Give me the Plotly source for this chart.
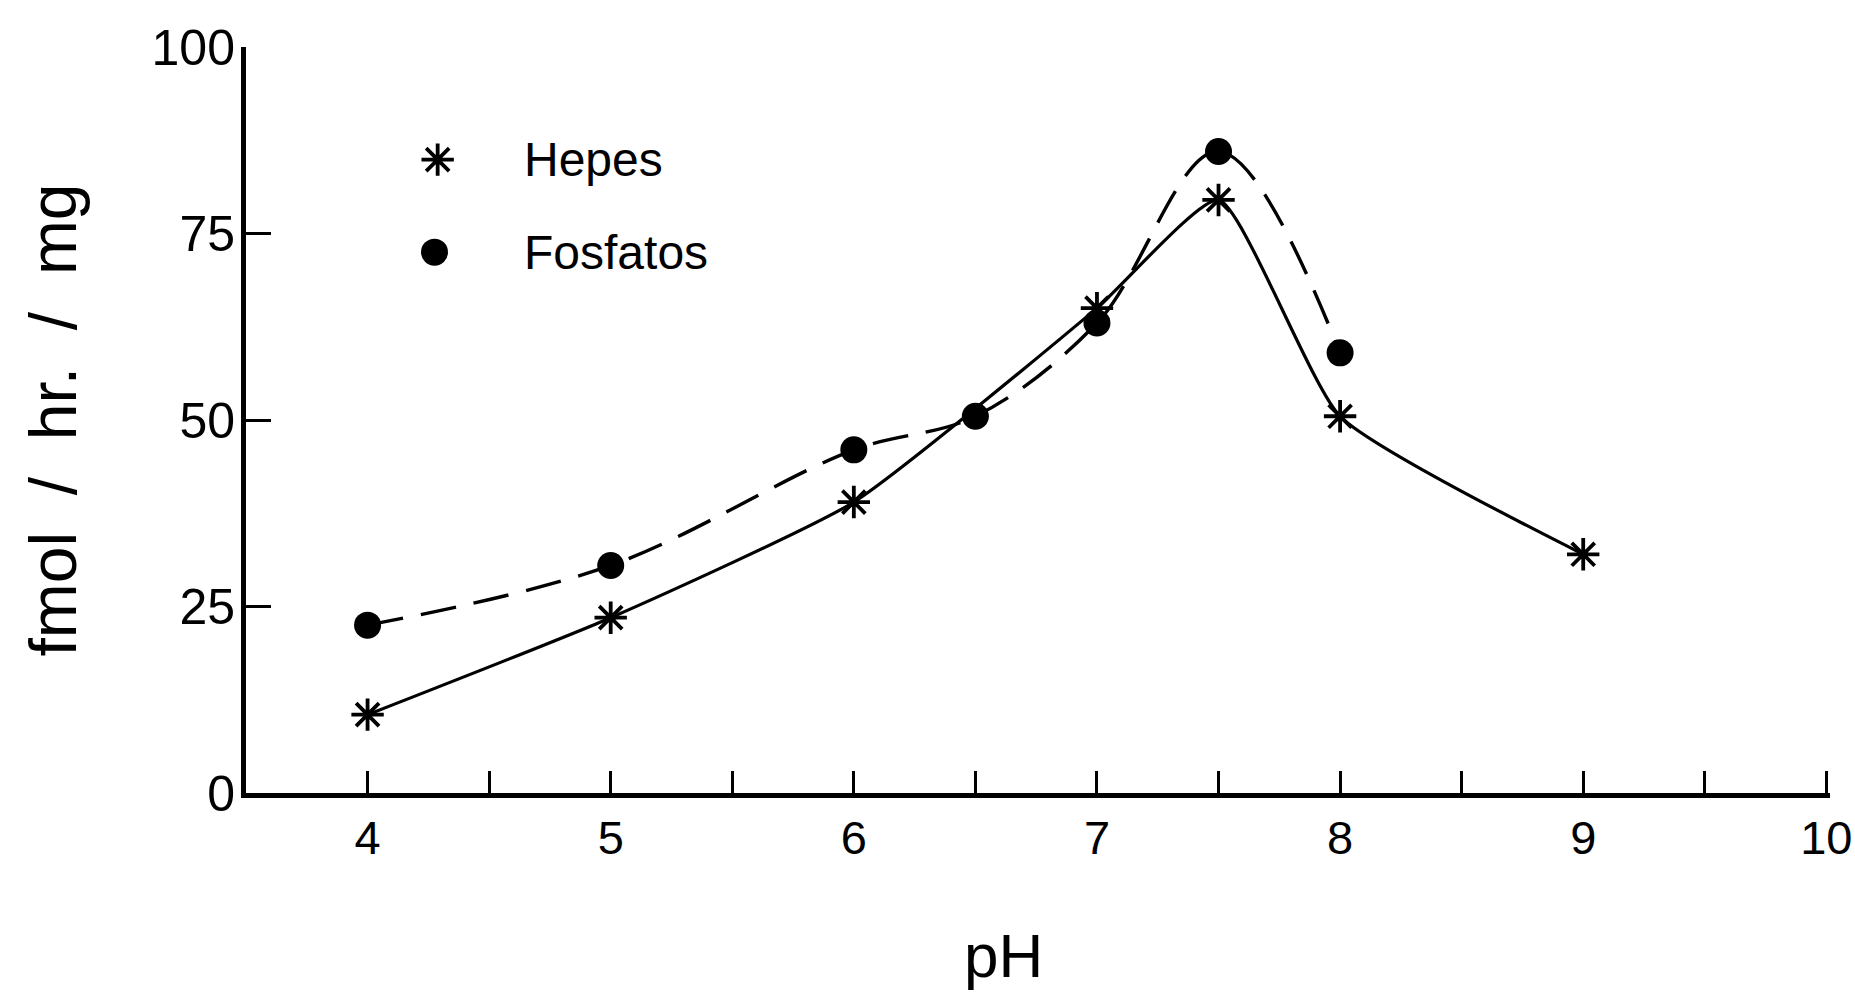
import plotly.graph_objects as go

# ---- data ----
ph_hepes = [4, 5, 6, 7, 7.5, 8, 9]
act_hepes = [10.5, 23.5, 39, 65, 79.5, 50.5, 32]

ph_fosf = [4, 5, 6, 6.5, 7, 7.5, 8]
act_fosf = [22.5, 30.5, 46, 50.5, 63, 86, 59]

x_major = [4, 5, 6, 7, 8, 9, 10]
x_minor = [4.5, 5.5, 6.5, 7.5, 8.5, 9.5]
y_ticks = [0, 25, 50, 75, 100]

legend_names = ["Hepes", "Fosfatos"]

FONT = "Liberation Sans"
INK = "black"

fig = go.Figure()

fig.add_trace(go.Scatter(
    x=ph_hepes, y=act_hepes, mode="lines+markers", name=legend_names[0],
    line=dict(color=INK, width=3.2, shape="spline", smoothing=0.5),
    marker=dict(symbol="asterisk-open", size=27, color=INK,
                line=dict(color=INK, width=3.8)),
    cliponaxis=False, showlegend=False))

fig.add_trace(go.Scatter(
    x=ph_fosf, y=act_fosf, mode="lines+markers", name=legend_names[1],
    line=dict(color=INK, width=3.4, shape="spline", smoothing=1.0,
              dash="36px,18px"),
    marker=dict(symbol="circle", size=27, color=INK),
    cliponaxis=False, showlegend=False))

# legend keys on a hidden overlay axis (fractions of the plot area)
key_x = [0.121, 0.119]
key_y = [0.849, 0.725]
fig.add_trace(go.Scatter(
    x=[key_x[0]], y=[key_y[0]], xaxis="x2", yaxis="y2", mode="markers",
    marker=dict(symbol="asterisk-open", size=27, color=INK,
                line=dict(color=INK, width=3.8)),
    showlegend=False, hoverinfo="skip", cliponaxis=False))
fig.add_trace(go.Scatter(
    x=[key_x[1]], y=[key_y[1]], xaxis="x2", yaxis="y2", mode="markers",
    marker=dict(symbol="circle", size=27, color=INK),
    showlegend=False, hoverinfo="skip", cliponaxis=False))

for name, ky in zip(legend_names, key_y):
    fig.add_annotation(x=0.174, y=ky, xref="paper", yref="paper",
                       text=name, showarrow=False, xanchor="left",
                       yanchor="middle",
                       font=dict(family=FONT, size=48, color=INK))

# x-axis title placed slightly left of centre, as in the reference
fig.add_annotation(x=0.478, y=-0.218, xref="paper", yref="paper",
                   text="pH", showarrow=False, xanchor="center",
                   yanchor="middle",
                   font=dict(family=FONT, size=62, color=INK))

fig.update_layout(
    width=1855, height=997,
    margin=dict(l=246, r=25, t=47, b=204),
    paper_bgcolor="white", plot_bgcolor="white",
    showlegend=False,
    font=dict(family=FONT, color=INK),
    xaxis=dict(
        range=[3.5, 10.015], showgrid=False, zeroline=False,
        showline=True, linecolor=INK, linewidth=5, automargin=False,
        tickmode="array", tickvals=x_major,
        ticktext=[str(v) for v in x_major],
        ticks="inside", ticklen=22, tickwidth=3, tickcolor=INK,
        minor=dict(tickvals=x_minor, ticks="inside", ticklen=22,
                   tickwidth=3, tickcolor=INK, showgrid=False),
        tickfont=dict(family=FONT, size=47, color=INK),
    ),
    yaxis=dict(
        range=[0, 100], showgrid=False, zeroline=False,
        showline=True, linecolor=INK, linewidth=5, automargin=False,
        tickmode="array", tickvals=y_ticks,
        ticktext=[str(v) for v in y_ticks],
        ticks="inside", ticklen=25, tickwidth=3, tickcolor=INK,
        tickfont=dict(family=FONT, size=50, color=INK),
        ticklabelstandoff=-4,
        title=dict(text="fmol  /  hr.  /  mg",
                   font=dict(family=FONT, size=66, color=INK),
                   standoff=55),
    ),
    xaxis2=dict(range=[0, 1], overlaying="x", visible=False,
                fixedrange=True),
    yaxis2=dict(range=[0, 1], overlaying="y", visible=False,
                fixedrange=True),
)

fig.write_html("out.html")
